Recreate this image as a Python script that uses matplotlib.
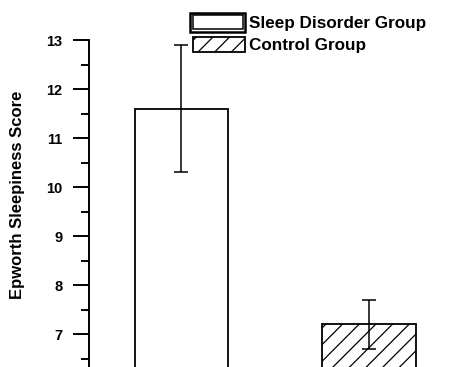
import matplotlib.pyplot as plt
from matplotlib.patches import Rectangle
from matplotlib.legend_handler import HandlerBase

plt.rcParams['font.family'] = ['Liberation Sans', 'DejaVu Sans']
plt.rcParams['font.weight'] = 'bold'
plt.rcParams['hatch.linewidth'] = 0.9

groups = ['Sleep Disorder Group', 'Control Group']
means = [11.6, 7.2]
errors = [1.3, 0.5]
hatches = ['', '//']


class BoxHandler(HandlerBase):
    # legend swatch: plain box, optionally with a second inner outline
    def __init__(self, double=False, hatch=''):
        super().__init__()
        self.double = double
        self.hatch = hatch

    def create_artists(self, legend, orig_handle, xdescent, ydescent,
                       width, height, fontsize, trans):
        x0, y0 = -xdescent, -ydescent
        if self.double:
            outer = Rectangle((x0 - 2, y0 - 1.5), width + 2, height + 3,
                              fc='white', ec='black', lw=1.8, transform=trans)
            inner = Rectangle((x0, y0 + 0.3), width - 1.6, height - 0.6,
                              fc='white', ec='black', lw=1.1, transform=trans)
            return [outer, inner]
        box = Rectangle((x0, y0), width, height, fc='white', ec='black',
                        lw=1.3, hatch=self.hatch, transform=trans)
        return [box]


fig = plt.figure(figsize=(4.62, 3.67), dpi=100)
ax = fig.add_axes([89 / 462, 0, 1 - 89 / 462, 1 - 40 / 367])

x = [0, 1]
bars = ax.bar(x, means, width=0.5, color='white', edgecolor='black',
              linewidth=1.3, zorder=2)
for b, h in zip(bars, hatches):
    b.set_hatch(h)
ax.errorbar(x, means, yerr=errors, fmt='none', ecolor='black',
            elinewidth=1.1, capsize=5.2, capthick=1.1, zorder=3)

ax.set_xlim(-0.493, 1.496)
ax.set_ylim(6.327, 13)
ax.set_yticks(range(7, 14))
ax.set_yticks([v + 0.5 for v in range(6, 13)], minor=True)
ax.tick_params(axis='y', which='major', direction='out', length=11.5,
               width=1.4, pad=7.5, labelsize=10.5)
ax.tick_params(axis='y', which='minor', direction='out', length=6, width=1.4)
ax.set_xticks([])
for side in ['top', 'right', 'bottom']:
    ax.spines[side].set_visible(False)
ax.spines['left'].set_linewidth(1.4)
ax.set_ylabel('Epworth Sleepiness Score', fontsize=12, fontweight='bold')
ax.yaxis.set_label_coords(-0.172, 0.528)

h1 = Rectangle((0, 0), 1, 1)
h2 = Rectangle((0, 0), 1, 1)
fig.legend([h1, h2], groups, loc='upper left',
           bbox_to_anchor=(193 / 462, 1 - 15 / 367),
           frameon=False, fontsize=12.3, borderpad=0, borderaxespad=0,
           handlelength=3.05, handleheight=0.95, handletextpad=0.22,
           labelspacing=0.33,
           handler_map={h1: BoxHandler(double=True),
                        h2: BoxHandler(hatch='//')})

fig.savefig('out.png', dpi=100)
